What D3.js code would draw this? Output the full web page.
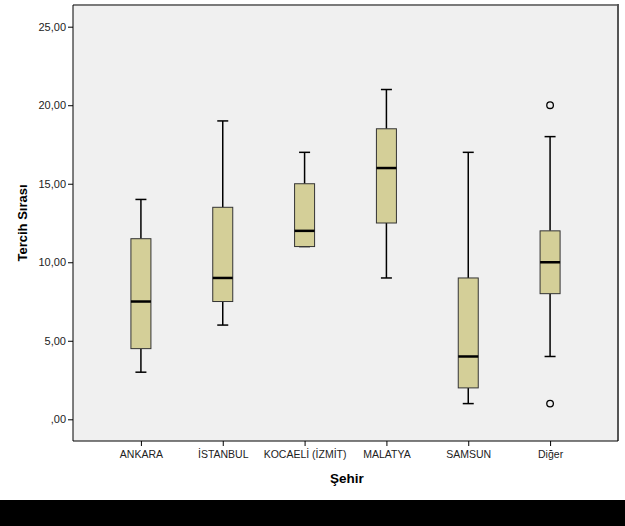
<!DOCTYPE html>
<html><head><meta charset="utf-8">
<script src="https://cdn.jsdelivr.net/npm/d3@7"></script>
<style>body{margin:0;background:#fff}svg{display:block}</style>
</head><body>
<script>
const categories = ["ANKARA","İSTANBUL","KOCAELİ (İZMİT)","MALATYA","SAMSUN","Diğer"];
const whiskerLow  = [3, 6, 11, 9, 1, 4];
const q1          = [4.5, 7.5, 11, 12.5, 2, 8];
const medians     = [7.5, 9, 12, 16, 4, 10];
const q3          = [11.5, 13.5, 15, 18.5, 9, 12];
const whiskerHigh = [14, 19, 17, 21, 17, 18];
const outliers    = [[], [], [], [], [], [20, 1]];
const yTicks = [0, 5, 10, 15, 20, 25];
const yTickLabels = [",00", "5,00", "10,00", "15,00", "20,00", "25,00"];

const W = 625, H = 526;
const L = 73, T = 5, R = 618, B = 441;
const svg = d3.select("body").append("svg").attr("width", W).attr("height", H);

svg.append("rect").attr("x",0).attr("y",500).attr("width",W).attr("height",26).attr("fill","#000");

const y = d3.scaleLinear().domain([0, 25]).range([419.3, 26.7]);
const x = d3.scalePoint().domain(categories).range([L, R]).padding(0.83);

svg.append("rect").attr("x",L).attr("y",T).attr("width",R-L).attr("height",B-T).attr("fill","#f0f0f0");
// frame
svg.append("line").attr("x1",L).attr("x2",R).attr("y1",T).attr("y2",T).attr("stroke","#7a7a7a").attr("stroke-width",2);
svg.append("line").attr("x1",R).attr("x2",R).attr("y1",T-1).attr("y2",B).attr("stroke","#555").attr("stroke-width",2);

const yAxis = d3.axisLeft(y).tickValues(yTicks).tickFormat((d,i)=>yTickLabels[i]).tickSize(5).tickPadding(2);
const gy = svg.append("g").attr("transform",`translate(${L},0)`).call(yAxis);
gy.select(".domain").attr("d", `M0,${T}V${B}`).attr("stroke","#000");
gy.selectAll("text").attr("font-family","Liberation Sans, Arial, sans-serif").attr("font-size",11).attr("fill","#222");

const xAxis = d3.axisBottom(x).tickSize(5).tickPadding(5);
const gx = svg.append("g").attr("transform",`translate(0,${B})`).call(xAxis);
gx.select(".domain").attr("d", `M${L},0H${R}`).attr("stroke","#000");
gx.selectAll("text").attr("font-family","Liberation Sans, Arial, sans-serif").attr("font-size",10.5).attr("fill","#222");

const data = categories.map((c,i)=>({c, lo:whiskerLow[i], q1:q1[i], med:medians[i], q3:q3[i], hi:whiskerHigh[i], out:outliers[i]}));
const bw = 20, cw = 11;
const g = svg.append("g").selectAll("g").data(data).join("g");
g.append("line").attr("x1",d=>x(d.c)).attr("x2",d=>x(d.c)).attr("y1",d=>y(d.hi)).attr("y2",d=>y(d.q3)).attr("stroke","#000").attr("stroke-width",1.5);
g.append("line").attr("x1",d=>x(d.c)).attr("x2",d=>x(d.c)).attr("y1",d=>y(d.q1)).attr("y2",d=>y(d.lo)).attr("stroke","#000").attr("stroke-width",1.5);
g.append("line").attr("x1",d=>x(d.c)-cw/2).attr("x2",d=>x(d.c)+cw/2).attr("y1",d=>y(d.hi)).attr("y2",d=>y(d.hi)).attr("stroke","#000").attr("stroke-width",1.5);
g.append("line").attr("x1",d=>x(d.c)-cw/2).attr("x2",d=>x(d.c)+cw/2).attr("y1",d=>y(d.lo)).attr("y2",d=>y(d.lo)).attr("stroke","#000").attr("stroke-width",1.5);
g.append("rect").attr("x",d=>x(d.c)-bw/2).attr("width",bw).attr("y",d=>y(d.q3)).attr("height",d=>y(d.q1)-y(d.q3))
  .attr("fill","#d4cf98").attr("stroke","#333").attr("stroke-width",1);
g.append("line").attr("x1",d=>x(d.c)-bw/2).attr("x2",d=>x(d.c)+bw/2).attr("y1",d=>y(d.med)).attr("y2",d=>y(d.med)).attr("stroke","#000").attr("stroke-width",2.5);
g.selectAll("circle").data(d=>d.out.map(v=>({c:d.c,v}))).join("circle")
  .attr("cx",d=>x(d.c)).attr("cy",d=>y(d.v)).attr("r",3.3).attr("fill","none").attr("stroke","#000").attr("stroke-width",1.3);

svg.append("text").attr("transform","translate(27,223) rotate(-90)").attr("text-anchor","middle")
  .attr("font-family","Liberation Sans, Arial, sans-serif").attr("font-weight","bold").attr("font-size",13).text("Tercih Sırası");
svg.append("text").attr("x",347).attr("y",483).attr("text-anchor","middle")
  .attr("font-family","Liberation Sans, Arial, sans-serif").attr("font-weight","bold").attr("font-size",13.5).text("Şehir");
</script>
</body></html>
